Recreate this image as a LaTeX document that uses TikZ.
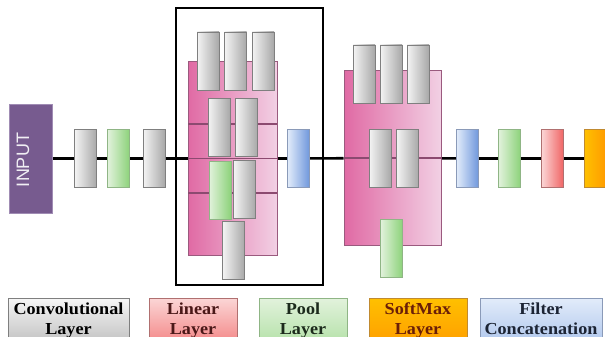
\documentclass[tikz,border=0pt]{standalone}
\usepackage{fontspec}
\setmainfont{Liberation Serif}
\newfontfamily\inpfont{Liberation Sans}
\usetikzlibrary{backgrounds}
\pgfdeclarelayer{bottom}
\pgfsetlayers{bottom,background,main}
\definecolor{inpurple}{HTML}{775B8F}
\definecolor{inborder}{HTML}{A08CB4}
\definecolor{mauve}{HTML}{8C4A70}
\definecolor{pinkL}{HTML}{E06AA4}
\definecolor{pinkR}{HTML}{F2D0E4}
\definecolor{pinkB}{HTML}{9A5A7E}
\definecolor{grayL}{HTML}{F4F4F4}
\definecolor{grayR}{HTML}{A8A8A8}
\definecolor{grayB}{HTML}{7F7F7F}
\definecolor{greenL}{HTML}{E2F2DC}
\definecolor{greenR}{HTML}{8CD27A}
\definecolor{greenB}{HTML}{8FB585}
\definecolor{blueL}{HTML}{E2ECFA}
\definecolor{blueR}{HTML}{6F97DC}
\definecolor{blueB}{HTML}{8A9AB8}
\definecolor{redL}{HTML}{FBD6D6}
\definecolor{redR}{HTML}{F06464}
\definecolor{redB}{HTML}{B07070}
\definecolor{orL}{HTML}{FFC000}
\definecolor{orR}{HTML}{FF9A00}
\definecolor{orB}{HTML}{C08A30}
\definecolor{txlin}{HTML}{4A1818}
\definecolor{txpool}{HTML}{1C2A1C}
\definecolor{txsoft}{HTML}{6A1E08}
\definecolor{txfilt}{HTML}{1C2434}
\newcommand{\legtxt}[2]{\scalebox{1.08}[1]{#1}\\\scalebox{1.08}[1]{#2}}
\tikzset{
  blk/.style={rectangle, inner sep=0pt, minimum width=22pt, minimum height=58pt, line width=0.8pt},
  graybox/.style={blk, draw=grayB, left color=grayL, right color=grayR},
  greenbox/.style={blk, draw=greenB, left color=greenL, right color=greenR},
  bluebox/.style={blk, draw=blueB, left color=blueL, right color=blueR},
  redbox/.style={blk, draw=redB, left color=redL, right color=redR},
  orbox/.style={blk, draw=orB, left color=orL, right color=orR},
  pinkbox/.style={rectangle, inner sep=0pt, draw=pinkB, line width=1pt, left color=pinkL, right color=pinkR},
  inline/.style={draw=mauve, line width=1.6pt},
  mainline/.style={draw=black, line width=2.6pt},
  legbox/.style={rectangle, inner sep=0pt, minimum height=52pt, line width=0.9pt},
  legtext/.style={inner sep=0pt, anchor=north, align=center, font=\rmfamily\bfseries\fontsize{16.8}{20}\selectfont},
}
\begin{document}
\begin{tikzpicture}[x=1pt,y=-1pt]
\useasboundingbox (0,0) rectangle (605,337);
\clip (0,0) rectangle (605,337);
\begin{pgfonlayer}{bottom}
\fill[white] (0,0) rectangle (605,337);
\end{pgfonlayer}

% input
\node[rectangle, inner sep=0pt, minimum width=43pt, minimum height=109pt, fill=inpurple, draw=inborder, line width=0.8pt] (input) at (30.5,158.5) {};
\node[rotate=90, text=white!90!inpurple, font=\inpfont\fontsize{18}{18}\selectfont, inner sep=0pt] (inputt) at (23,160) {INPUT};

% left chain
\node[graybox] (c1) at (85.5,158.5) {};
\node[greenbox] (p1) at (118.5,158.5) {};
\node[graybox] (c2) at (154,158.5) {};

% frame
\node[rectangle, inner sep=0pt, draw=black, line width=2.8pt, minimum width=147pt, minimum height=277pt] (frame) at (249.5,146.5) {};

% pink block 1
\node[pinkbox, minimum width=89pt, minimum height=193pt] (pk1) at (232.5,158.5) {};
\coordinate (pk1a) at (188,124);
\coordinate (pk1b) at (277,124);
\coordinate (pk1c) at (188,193);
\coordinate (pk1d) at (277,193);
\draw[inline] (pk1a) -- (pk1b);
\draw[inline] (pk1.west) -- (pk1.east);
\draw[inline] (pk1c) -- (pk1d);
\node[graybox] (r1a) at (208,61) {};
\node[graybox] (r1b) at (235.5,61) {};
\node[graybox] (r1c) at (263,61) {};
\node[graybox] (r2a) at (219,127) {};
\node[graybox] (r2b) at (246.5,127) {};
\node[greenbox] (r3a) at (220,190) {};
\node[graybox] (r3b) at (244.5,189) {};
\node[graybox] (r4) at (233.5,250.5) {};

\node[bluebox] (b1) at (298.5,158.5) {};

% pink block 2
\node[pinkbox, minimum width=97pt, minimum height=175pt] (pk2) at (392.5,158) {};
\draw[inline] (pk2.west) -- (pk2.east);
\node[graybox] (s1a) at (364,74) {};
\node[graybox] (s1b) at (391,74) {};
\node[graybox] (s1c) at (418,74) {};
\node[graybox] (s2a) at (380,158) {};
\node[graybox] (s2b) at (407.5,158) {};
\node[greenbox] (s3) at (391.5,248.5) {};

% right chain
\node[bluebox] (b2) at (467.5,158.5) {};
\node[greenbox] (g2) at (509.5,158.5) {};
\node[redbox] (rd) at (552.5,158.5) {};
\node[orbox] (or) at (595.5,158.5) {};

\begin{pgfonlayer}{background}
\draw[mainline] (input) -- (c1);
\draw[mainline] (c1) -- (p1);
\draw[mainline] (p1) -- (c2);
\draw[mainline] (c2) -- (pk1);
\draw[mainline] (pk1) -- (b1);
\draw[mainline] (b1) -- (pk2);
\draw[mainline] (pk2) -- (b2);
\draw[mainline] (b2) -- (g2);
\draw[mainline] (g2) -- (rd);
\draw[mainline] (rd) -- (or);
\end{pgfonlayer}

% legend
\node[legbox, minimum width=121pt, draw=grayB, top color=grayL!80!white, bottom color=grayR!80!white] (lconv) at (68.5,324) {};
\node[legtext, text=black] (lconvt) at (68.5,302.5) {\legtxt{Convolutional}{Layer}};
\node[legbox, minimum width=88pt, draw=redB, top color=redL, bottom color=redR!80!redL] (llin) at (193,324) {};
\node[legtext, text=txlin] (llint) at (193,302.5) {\legtxt{Linear}{Layer}};
\node[legbox, minimum width=88pt, draw=greenB, top color=greenL, bottom color=greenR!60!greenL] (lpool) at (303,324) {};
\node[legtext, text=txpool] (lpoolt) at (303,302.5) {\legtxt{Pool}{Layer}};
\node[legbox, minimum width=98pt, draw=orB, top color=orL, bottom color=orR] (lsoft) at (418,324) {};
\node[legtext, text=txsoft] (lsoftt) at (418,302.5) {\legtxt{SoftMax}{Layer}};
\node[legbox, minimum width=122pt, draw=blueB, top color=blueL, bottom color=blueR!50!blueL] (lfilt) at (541,324) {};
\node[legtext, text=txfilt] (lfiltt) at (541,302.5) {\legtxt{Filter}{Concatenation}};
\end{tikzpicture}
\end{document}
